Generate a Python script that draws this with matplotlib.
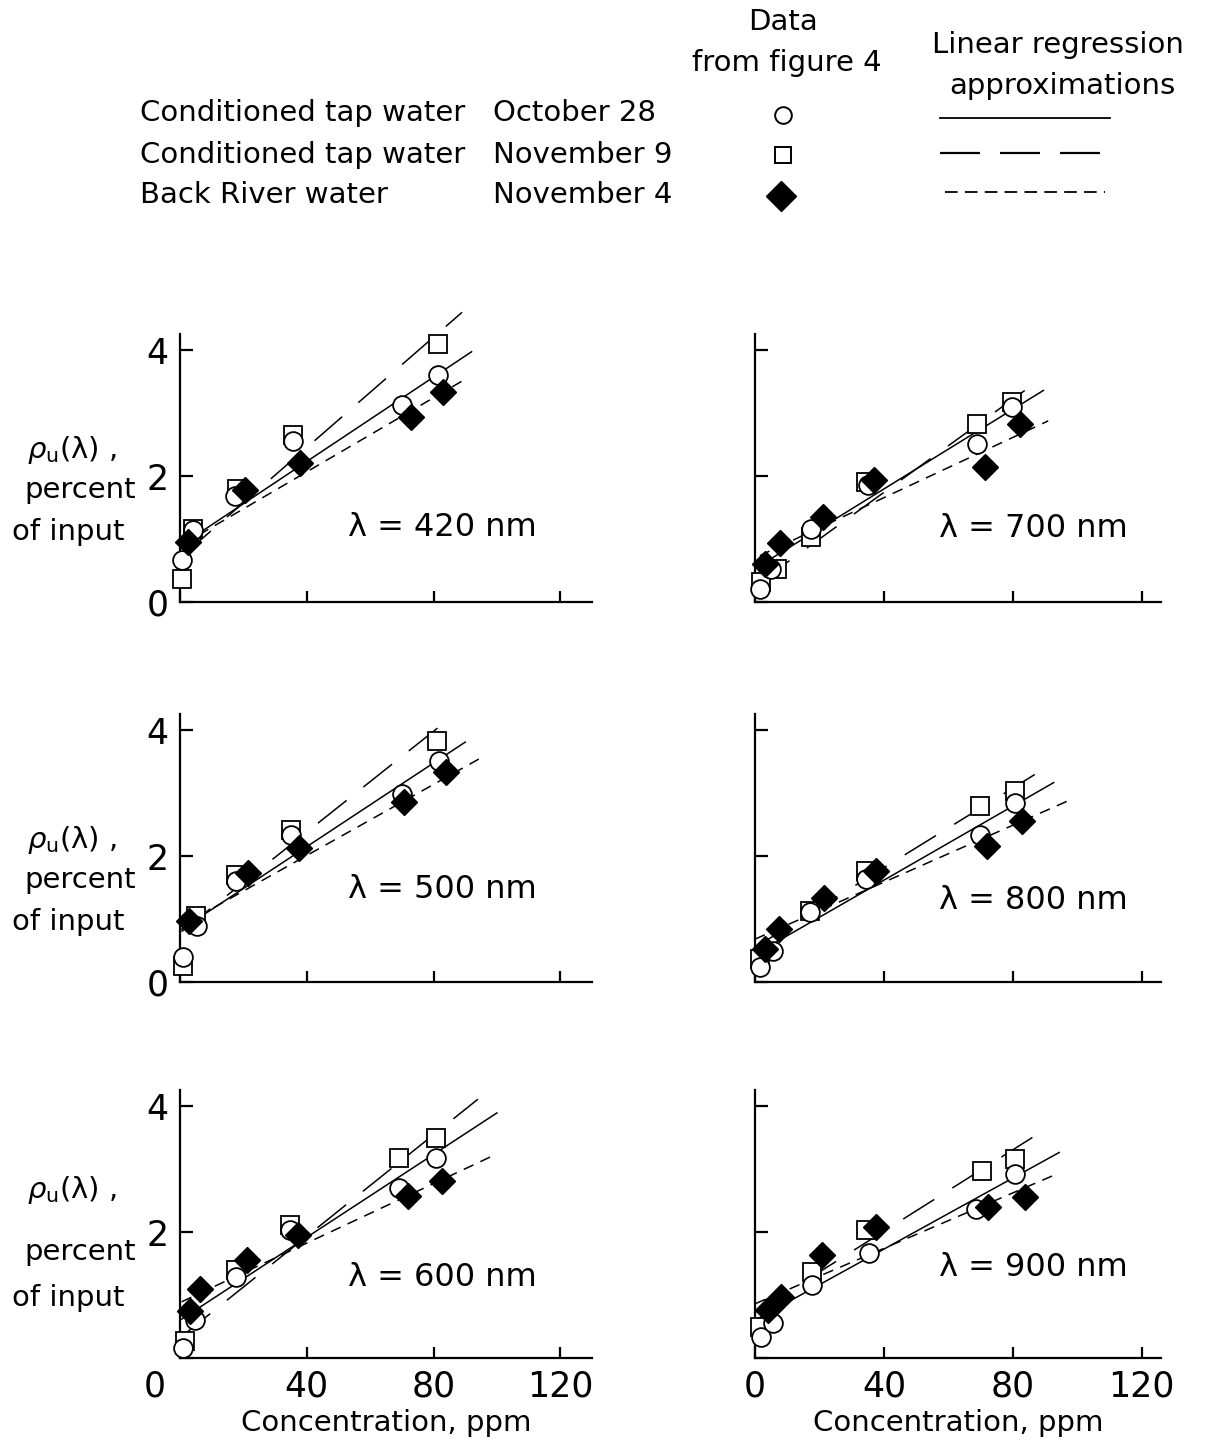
import matplotlib
matplotlib.use("Agg")
import matplotlib.pyplot as plt
import matplotlib.transforms as mtransforms
import numpy as np

plt.rcParams['font.family'] = ['DejaVu Sans']
plt.rcParams['mathtext.fontset'] = 'dejavusans'

# ---------------- data ----------------
wavelengths = [420, 700, 500, 800, 600, 900]

# Conditioned tap water, October 28 (circles)
oct28_x = {420: [0.5, 4, 17.4, 35.7, 70, 81.5],
           500: [0.8, 5.5, 17.6, 34.9, 70.2, 81.8],
           600: [1.1, 4.7, 17.8, 34.6, 69.2, 80.7],
           700: [1.5, 5, 17.5, 35, 69, 79.7],
           800: [1.6, 5.7, 17.2, 34.4, 69.8, 80.7],
           900: [1.9, 5.5, 17.6, 35.3, 68.7, 80.8]}
oct28_y = {420: [0.66, 1.15, 1.69, 2.55, 3.13, 3.60],
           500: [0.39, 0.89, 1.60, 2.33, 2.99, 3.51],
           600: [0.16, 0.61, 1.28, 2.03, 2.70, 3.18],
           700: [0.21, 0.53, 1.16, 1.85, 2.51, 3.10],
           800: [0.24, 0.50, 1.11, 1.63, 2.34, 2.84],
           900: [0.34, 0.55, 1.16, 1.66, 2.37, 2.92]}

# Conditioned tap water, November 9 (squares)
nov9_x = {420: [0.5, 4.2, 18, 35.5, 81.5],
          500: [0.8, 5, 17.6, 34.9, 81.2],
          600: [1.6, 17.8, 34.6, 69.2, 80.7],
          700: [2, 6.7, 17.5, 34.5, 69, 79.7],
          800: [1.6, 17.2, 34.4, 69.8, 80.7],
          900: [1.4, 17.6, 34.3, 70.3, 80.8]}
nov9_y = {420: [0.37, 1.16, 1.80, 2.65, 4.10],
          500: [0.26, 1.04, 1.70, 2.41, 3.83],
          600: [0.27, 1.39, 2.11, 3.18, 3.50],
          700: [0.32, 0.53, 1.03, 1.90, 2.83, 3.17],
          800: [0.37, 1.13, 1.76, 2.79, 3.03],
          900: [0.50, 1.37, 2.03, 2.97, 3.16]}

# Back River water, November 4 (filled diamonds)
nov4_x = {420: [2.6, 20.5, 37.9, 73, 83],
          500: [2.9, 21.3, 37.7, 70.7, 83.8],
          600: [3.1, 6.3, 21, 37.2, 71.8, 82.8],
          700: [3, 7.7, 21, 37, 71.5, 82.3],
          800: [3.1, 7.3, 21.3, 37.5, 71.9, 82.8],
          900: [4, 8.2, 20.7, 37.4, 72.4, 83.9]}
nov4_y = {420: [0.95, 1.77, 2.20, 2.94, 3.34],
          500: [0.97, 1.73, 2.12, 2.86, 3.33],
          600: [0.75, 1.10, 1.55, 1.95, 2.57, 2.81],
          700: [0.61, 0.93, 1.35, 1.93, 2.14, 2.83],
          800: [0.53, 0.84, 1.34, 1.76, 2.16, 2.55],
          900: [0.76, 0.97, 1.63, 2.08, 2.39, 2.55]}

# Linear regression approximations: intercept, slope, x start, x end
oct28_fit = {420: (0.89, 0.0335, 1, 92), 500: (0.82, 0.0332, 0.5, 90),
             600: (0.60, 0.0329, 0.5, 100), 700: (0.53, 0.0316, 1.5, 89.5),
             800: (0.44, 0.0294, 0.5, 92.7), 900: (0.60, 0.0282, 0.3, 94.4)}
nov9_fit = {420: (0.70, 0.0438, 1, 89), 500: (0.78, 0.0400, 0.5, 82),
            600: (0.32, 0.0403, 0.5, 94), 700: (0.26, 0.0370, 1.5, 88),
            800: (0.55, 0.0316, 0.5, 92), 900: (0.72, 0.0323, 0.3, 87.6)}
nov4_fit = {420: (0.89, 0.0294, 1, 90), 500: (0.88, 0.0282, 0.5, 95),
            600: (0.88, 0.0236, 0.5, 100), 700: (0.70, 0.0239, 1.5, 91),
            800: (0.68, 0.0226, 0, 97), 900: (0.86, 0.0220, 0.3, 94)}

x_ticks = [0, 40, 80, 120]
x_ticklabels = ['0', '40', '80', '120']
y_ticks = [0, 2, 4]
y_ticklabels = ['0', '2', '4']

legend_names = ['Conditioned tap water', 'Conditioned tap water', 'Back River water']
legend_dates = ['October 28', 'November 9', 'November 4']

# ---------------- figure ----------------
W, H = 1209, 1444
fig = plt.figure(figsize=(W / 100, H / 100), dpi=100)

FS_TICK = 25
FS = 21
LONG = (0, (24, 14))
SHORT = (0, (7, 5))

# axes geometry (pixels)
col_left = {0: (180, 592, 130), 1: (755, 1161, 126)}
row_zero = [602, 982, 1358]
px_per_unit_y = 63
ymax = 4.25

for i, wl in enumerate(wavelengths):
    r, c = divmod(i, 2)
    x0, x1, xmax = col_left[c]
    y0 = row_zero[r]
    hpx = ymax * px_per_unit_y
    ax = fig.add_axes([x0 / W, (H - y0) / H, (x1 - x0) / W, hpx / H])
    ax.set_xlim(0, xmax)
    ax.set_ylim(0, ymax)
    for s in ['top', 'right']:
        ax.spines[s].set_visible(False)
    for s in ['left', 'bottom']:
        ax.spines[s].set_linewidth(1.6)
    ax.set_xticks(x_ticks)
    ax.set_yticks(y_ticks)
    ax.tick_params(direction='in', length=9, width=1.6, labelsize=FS_TICK, pad=8)
    ax.tick_params(axis='x', which='major', length=8)
    if r == 2:
        ax.set_xticklabels(x_ticklabels)
    else:
        ax.set_xticklabels([])
    if c == 0 and r < 2:
        ax.set_yticklabels(y_ticklabels)
    elif c == 0:
        ax.set_yticklabels(['', '2', '4'])
    else:
        ax.set_yticklabels([])
    if c == 0 and r == 2:
        lab0 = ax.get_xticklabels()[0]
        lab0.set_transform(lab0.get_transform() +
                           mtransforms.ScaledTranslation(-0.25, 0, fig.dpi_scale_trans))
    if r == 2:
        ax.set_xlabel('Concentration, ppm', fontsize=FS, labelpad=4)

    # regression lines
    for fit, ls in [(oct28_fit, '-'), (nov9_fit, LONG), (nov4_fit, SHORT)]:
        a, b, xs, xe = fit[wl]
        xx = np.array([xs, xe])
        ax.plot(xx, a + b * xx, color='black', lw=1.1, linestyle=ls,
                clip_on=False, zorder=2)

    # data
    ax.plot(nov9_x[wl], nov9_y[wl], linestyle='none', marker='s', ms=12.5,
            mfc='white', mec='black', mew=1.3, clip_on=False, zorder=3)
    ax.plot(oct28_x[wl], oct28_y[wl], linestyle='none', marker='o', ms=13.5,
            mfc='white', mec='black', mew=1.3, clip_on=False, zorder=4)
    ax.plot(nov4_x[wl], nov4_y[wl], linestyle='none', marker='D', ms=13,
            mfc='black', mec='black', mew=1, clip_on=False, zorder=5)

    # wavelength annotation
    lx = {0: 442, 1: 1033}[c]
    ly = {(0, 0): 527, (0, 1): 528, (1, 0): 890, (1, 1): 900,
          (2, 0): 1278, (2, 1): 1268}[(r, c)]
    fig.text(lx / W, 1 - ly / H, f'λ = {wl} nm', fontsize=23,
             ha='center', va='center')

    # y label
    if c == 0:
        base = [450, 840, 1190][r]
        gaps = [(0, 40, 82), (0, 40, 82), (0, 62, 108)][r]
        fig.text(72 / W, 1 - (base + gaps[0]) / H, r'$\rho_{\mathrm{u}}$(λ) ,',
                 fontsize=FS, ha='center', va='center')
        fig.text(80 / W, 1 - (base + gaps[1]) / H, 'percent',
                 fontsize=FS, ha='center', va='center')
        fig.text(68 / W, 1 - (base + gaps[2]) / H, 'of input',
                 fontsize=FS, ha='center', va='center')

# ---------------- legend block ----------------
rows_y = [113, 155, 195]
for yy, name, date in zip(rows_y, legend_names, legend_dates):
    fig.text(140 / W, 1 - yy / H, name, fontsize=FS, ha='left', va='center')
    fig.text(493 / W, 1 - yy / H, date, fontsize=FS, ha='left', va='center')

fig.text(783 / W, 1 - 22 / H, 'Data', fontsize=FS, ha='center', va='center')
fig.text(787 / W, 1 - 63 / H, 'from figure 4', fontsize=FS, ha='center', va='center')
fig.text(1058 / W, 1 - 45 / H, 'Linear regression', fontsize=FS, ha='center', va='center')
fig.text(1062 / W, 1 - 86 / H, 'approximations', fontsize=FS, ha='center', va='center')

lax = fig.add_axes([0, 0, 1, 1], facecolor='none')
lax.set_xlim(0, W)
lax.set_ylim(H, 0)
lax.axis('off')
lax.plot([783], [115], marker='o', ms=12, mfc='white', mec='black', mew=1.4)
lax.plot([783], [155], marker='s', ms=11, mfc='white', mec='black', mew=1.4)
lax.plot([781], [196], marker='D', ms=15, mfc='black', mec='black')
lax.plot([940, 1110], [118, 118], color='black', lw=1.3)
lax.plot([940, 1110], [153, 153], color='black', lw=1.6, linestyle=(0, (18, 9)))
lax.plot([945, 1105], [192, 192], color='black', lw=1.3, linestyle=(0, (7, 4)))

fig.savefig('out.png', dpi=100)
